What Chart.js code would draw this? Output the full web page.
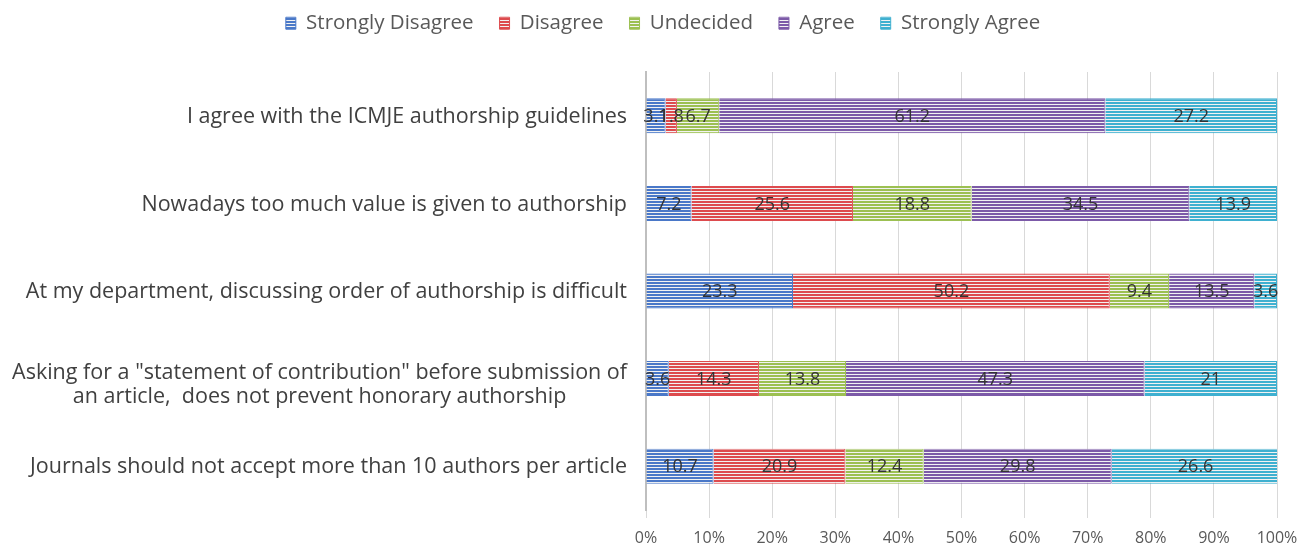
<!DOCTYPE html>
<html>
<head>
<meta charset="utf-8">
<script src="https://cdn.jsdelivr.net/npm/chart.js@4.4.0/dist/chart.umd.min.js"></script>
<style>
    html, body { margin: 0; padding: 0; background: #ffffff; }
    #wrap { width: 1304px; height: 548px; }
</style>
</head>
<body>
<div id="wrap"><canvas id="authorshipChart"></canvas></div>
<script>
var questions = [
    'I agree with the ICMJE authorship guidelines',
    'Nowadays too much value is given to authorship',
    'At my department, discussing order of authorship is difficult',
    ['Asking for a "statement of contribution" before submission of', 'an article,  does not prevent honorary authorship'],
    'Journals should not accept more than 10 authors per article'
];

var answers = ['Strongly Disagree', 'Disagree', 'Undecided', 'Agree', 'Strongly Agree'];

var stronglyDisagree = [3.1, 7.2, 23.3, 3.6, 10.7];
var disagree = [1.8, 25.6, 50.2, 14.3, 20.9];
var undecided = [6.7, 18.8, 9.4, 13.8, 12.4];
var agree = [61.2, 34.5, 13.5, 47.3, 29.8];
var stronglyAgree = [27.2, 13.9, 3.6, 21, 26.6];

var tickLabels = ['0%', '10%', '20%', '30%', '40%', '50%', '60%', '70%', '80%', '90%', '100%'];

var colors = ['#4a78c8', '#dd4b4e', '#9cc052', '#7c5aa8', '#3fb0d0'];

// listras horizontais como no grafico original
function stripes(color) {
    var c = document.createElement('canvas');
    c.width = 4;
    c.height = 3;
    var g = c.getContext('2d');
    g.fillStyle = color;
    g.fillRect(0, 0, 4, 2);
    g.fillStyle = '#f2f2f2';
    g.fillRect(0, 2, 4, 1);
    return g.createPattern(c, 'repeat');
}

var series = [stronglyDisagree, disagree, undecided, agree, stronglyAgree];
var datasets = [];
for (var i = 0; i < series.length; i++) {
    datasets.push({
        label: answers[i],
        data: series[i],
        backgroundColor: stripes(colors[i]),
        borderColor: colors[i],
        borderWidth: 1,
        barPercentage: 0.4,
        categoryPercentage: 1
    });
}

var valueLabels = {
    id: 'valueLabels',
    afterDatasetsDraw: function (chart) {
        var ctx = chart.ctx;
        ctx.save();
        ctx.font = '18px "Open Sans"';
        ctx.fillStyle = '#333333';
        ctx.textAlign = 'center';
        ctx.textBaseline = 'middle';
        chart.data.datasets.forEach(function (ds, i) {
            chart.getDatasetMeta(i).data.forEach(function (bar, j) {
                ctx.fillText(String(ds.data[j]), (bar.x + bar.base) / 2, bar.y + 1);
            });
        });
        ctx.restore();
    }
};

// rotulos das perguntas (a linha dupla fica centralizada)
var questionLabels = {
    id: 'questionLabels',
    afterDraw: function (chart) {
        var ctx = chart.ctx;
        var scale = chart.scales.y;
        var right = chart.chartArea.left - 19;
        ctx.save();
        ctx.font = '21.5px "Open Sans"';
        ctx.fillStyle = '#404040';
        ctx.textBaseline = 'middle';
        ctx.textAlign = 'center';
        chart.data.labels.forEach(function (lab, i) {
            var lines = Array.isArray(lab) ? lab : [lab];
            var w = 0;
            lines.forEach(function (l) { w = Math.max(w, ctx.measureText(l).width); });
            var y = scale.getPixelForTick(i) + 1;
            if (lines.length > 1) y = y - 7;
            lines.forEach(function (l, k) {
                ctx.fillText(l, right - w / 2, y + k * 24);
            });
        });
        ctx.restore();
    }
};

// espaco fixo abaixo da legenda
var legendSpace = {
    id: 'legendSpace',
    beforeInit: function (chart) {
        var fit = chart.legend.fit;
        chart.legend.fit = function () {
            fit.bind(chart.legend)();
            this.height = 85;
        };
    }
};

var ctx = document.getElementById('authorshipChart').getContext('2d');
var chart = new Chart(ctx, {
    type: 'bar',
    data: {
        labels: questions,
        datasets: datasets
    },
    options: {
        indexAxis: 'y',
        responsive: true,
        maintainAspectRatio: false,
        animation: false,
        layout: {
            padding: { top: -13, right: 0, bottom: 0, left: 22 }
        },
        plugins: {
            legend: {
                position: 'top',
                labels: {
                    boxWidth: 10,
                    boxHeight: 12,
                    padding: 26,
                    color: '#595959',
                    font: { family: 'Open Sans', size: 20.5 }
                }
            },
            tooltip: { enabled: false }
        },
        scales: {
            x: {
                stacked: true,
                min: 0,
                max: 100,
                grid: { color: '#d9d9d9', tickLength: 8 },
                border: { display: false },
                ticks: {
                    stepSize: 10,
                    padding: 11,
                    color: '#595959',
                    font: { family: 'Open Sans', size: 16 },
                    callback: function (v, idx) { return tickLabels[idx]; }
                },
                afterFit: function (scale) {
                    scale.height = 38;
                    scale.paddingRight = 27;
                }
            },
            y: {
                stacked: true,
                grid: { display: false },
                border: { display: true, color: '#bfbfbf', width: 2 },
                ticks: { color: 'rgba(0,0,0,0)', font: { family: 'Open Sans', size: 18 } },
                afterFit: function (scale) { scale.width = 624; }
            }
        }
    },
    plugins: [valueLabels, questionLabels, legendSpace]
});
</script>
</body>
</html>
